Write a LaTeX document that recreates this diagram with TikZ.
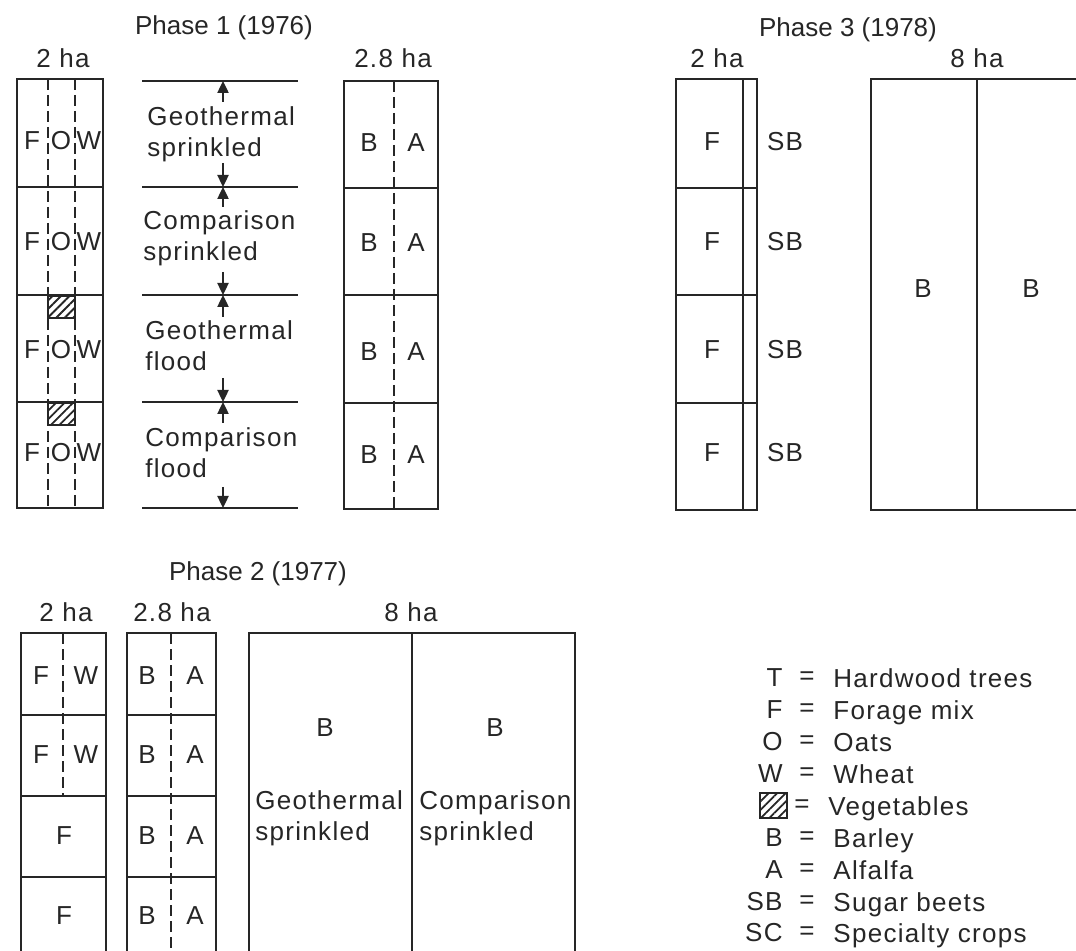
\documentclass[tikz,border=0pt]{standalone}
\usepackage{fontspec}
\setmainfont[LetterSpace=5]{Liberation Sans}
\newfontfamily\headfont{Liberation Sans}
\usetikzlibrary{arrows.meta, patterns.meta}
\definecolor{ink}{HTML}{262626}

\begin{document}
\begin{tikzpicture}[
    x=0.5pt, y=-0.5pt,
    >={Triangle[length=6pt, width=5.5pt]},
    font=\fontsize{13}{15.5}\selectfont,
    every node/.style={text=ink, inner sep=0pt},
    field/.style={draw=ink, line width=1.2pt},
    strip/.style={draw=ink, line width=0.9pt, dash pattern=on 5.5pt off 2.5pt},
    veg/.style={
        draw=ink, line width=1pt,
        pattern={Lines[angle=45, distance=3pt, line width=0.9pt]},
        pattern color=ink,
    },
    crop/.style={anchor=center},
    % base of a two-line note is the baseline of its last line
    note/.style={anchor=base west, align=left},
    area/.style={anchor=base},
    phasetitle/.style={font=\headfont\fontsize{13}{15.5}\selectfont, anchor=base},
    dim/.style={->, line width=1.2pt, draw=ink},
    key/.style={anchor=east},
    eqs/.style={anchor=center},
    desc/.style={anchor=base west},
]
\useasboundingbox (0,0) rectangle (1076,951);
\clip (0,0) rectangle (1076,951);

% =====================================================================
% PHASE 1 (1976)
% =====================================================================

\node[phasetitle] (p1title) at (224,35) {Phase 1 (1976)};
\node[area] (p1ha2)  at (63,68)  {2 ha};
\node[area] (p1ha28) at (393,68) {2.8 ha};

% 2 ha plot: forage / oats / wheat strips
\draw[field] (17,79) rectangle (103,508);
\foreach \y in {187,295,402} \draw[field] (17,\y) -- (103,\y);
\foreach \x in {48,75} \draw[strip] (\x,79) -- (\x,508);
\draw[veg] (48,296) rectangle (75,318);
\draw[veg] (48,403) rectangle (75,425);
\foreach \y [count=\i] in {141,242,350,453} {
    \node[crop] (p1f\i) at (32,\y) {F};
    \node[crop] (p1o\i) at (61,\y) {O};
    \node[crop] (p1w\i) at (89,\y) {W};
}

% treatment bands with dimension arrows
\foreach \y [count=\i] in {81,187,295,402,508} {
    \draw[field, line width=1pt] (142,\y) -- (298,\y);
    \coordinate (tick\i) at (223,\y);
}
\foreach \t/\h [count=\i] in {102/1,163/2,207/2,272/3,317/3,378/4,423/4,487/5} {
    \coordinate (tail\i) at (223,\t);
    \draw[dim] (tail\i) -- (tick\h);
}
\node[note] (gspr) at (147,157) {Geothermal\\sprinkled};
\node[note] (cspr) at (143,261) {Comparison\\sprinkled};
\node[note] (gfld) at (145,371) {Geothermal\\flood};
\node[note] (cfld) at (145,478) {Comparison\\flood};

% 2.8 ha plot: barley / alfalfa
\draw[field] (344,81) rectangle (438,509);
\foreach \y in {188,295,403} \draw[field] (344,\y) -- (438,\y);
\draw[strip] (394,81) -- (394,509);
\foreach \y [count=\i] in {143,243,352,455} {
    \node[crop] (p1b\i) at (369,\y) {B};
    \node[crop] (p1a\i) at (416,\y) {A};
}

% =====================================================================
% PHASE 3 (1978)
% =====================================================================

\node[phasetitle] (p3title) at (848,37) {Phase 3 (1978)};
\node[area] (p3ha2) at (717,68) {2 ha};
\node[area] (p3ha8) at (977,68) {8 ha};

\draw[field] (676,79) rectangle (757,510);
\draw[field] (743,79) -- (743,510);
\foreach \y in {188,295,403} \draw[field] (676,\y) -- (757,\y);
\foreach \y [count=\i] in {142,242,350,453} {
    \node[crop] (p3f\i)  at (712,\y) {F};
    \node[crop] (p3sb\i) at (785,\y) {SB};
}

\draw[field] (871,79) rectangle (1083,510);
\draw[field] (977,79) -- (977,510);
\node[crop] (p3b1) at (923,289)  {B};
\node[crop] (p3b2) at (1031,289) {B};

% =====================================================================
% PHASE 2 (1977)
% =====================================================================

\node[phasetitle] (p2title) at (258,581) {Phase 2 (1977)};
\node[area] (p2ha2)  at (66,622)  {2 ha};
\node[area] (p2ha28) at (172,622) {2.8 ha};
\node[area] (p2ha8)  at (411,622) {8 ha};

\draw[field] (21,633) rectangle (106,1000);
\foreach \y in {715,796,877} \draw[field] (21,\y) -- (106,\y);
\draw[strip] (63,633) -- (63,796);
\foreach \y [count=\i] in {676,755} {
    \node[crop] (p2f\i) at (41,\y) {F};
    \node[crop] (p2w\i) at (86,\y) {W};
}
\foreach \y [count=\i] in {836,916} \node[crop] (p2g\i) at (64,\y) {F};

\draw[field] (127,633) rectangle (216,1000);
\foreach \y in {715,796,877} \draw[field] (127,\y) -- (216,\y);
\draw[strip] (171,633) -- (171,1000);
\foreach \y [count=\i] in {676,755,836,916} {
    \node[crop] (p2b\i) at (147,\y) {B};
    \node[crop] (p2a\i) at (195,\y) {A};
}

\draw[field] (249,633) rectangle (575,1000);
\draw[field] (412,633) -- (412,1000);
\node[crop] (p2bg) at (325,728) {B};
\node[crop] (p2bc) at (495,728) {B};
\node[note] (p2gspr) at (255,840) {Geothermal\\sprinkled};
\node[note] (p2cspr) at (419,840) {Comparison\\sprinkled};

% =====================================================================
% KEY
% =====================================================================

\foreach \y/\k/\v in {678/T/Hardwood trees, 710/F/Forage mix, 742/O/Oats,
        774/W/Wheat, 838/B/Barley, 870/A/Alfalfa, 902/SB/Sugar beets,
        933/SC/Specialty crops} {
    \node[key]  (key\k)  at (783,\y)   {\k};
    \node[eqs]  (eq\k)   at (807,\y)   {=};
    \node[desc] (desc\k) at (833,\y+9) {\v};
}
\node[veg, minimum width=13.5pt, minimum height=12.5pt] (keyV) at (773.5,805.5) {};
\node[eqs]  (eqV)   at (802,806) {=};
\node[desc] (descV) at (828,815) {Vegetables};

\end{tikzpicture}
\end{document}
